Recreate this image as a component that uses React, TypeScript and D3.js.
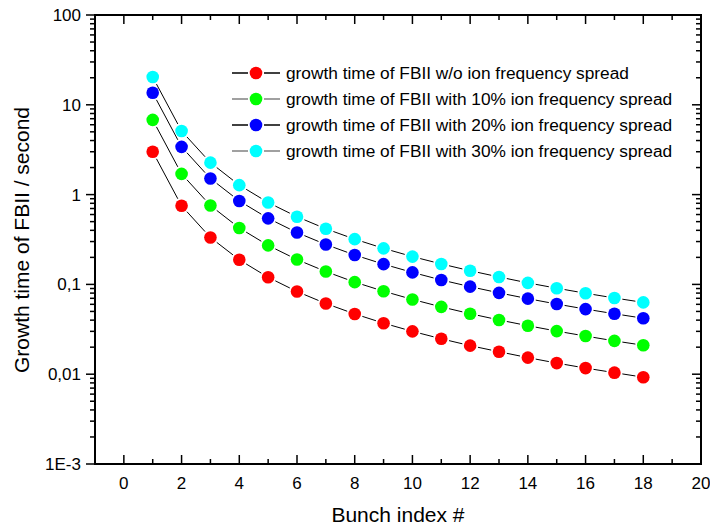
import React from "react";
import * as d3 from "d3";

const bunchIndex = [1, 2, 3, 4, 5, 6, 7, 8, 9, 10, 11, 12, 13, 14, 15, 16, 17, 18];
const noSpread = [3.0, 0.75, 0.333, 0.188, 0.12, 0.0833, 0.0612, 0.0469, 0.037, 0.03, 0.0248, 0.0208, 0.0178, 0.0153, 0.0133, 0.0117, 0.0104, 0.00926];
const spread10 = [6.8, 1.7, 0.756, 0.425, 0.272, 0.189, 0.139, 0.106, 0.084, 0.068, 0.0562, 0.0472, 0.0402, 0.0347, 0.0302, 0.0266, 0.0235, 0.021];
const spread20 = [13.6, 3.4, 1.51, 0.85, 0.544, 0.378, 0.278, 0.2125, 0.168, 0.136, 0.112, 0.0944, 0.0805, 0.0694, 0.0604, 0.0531, 0.0471, 0.042];
const spread30 = [20.4, 5.1, 2.27, 1.275, 0.816, 0.567, 0.416, 0.319, 0.252, 0.204, 0.169, 0.142, 0.121, 0.104, 0.0907, 0.0797, 0.0706, 0.063];
const seriesNames = [
  "growth time of FBII w/o ion frequency spread",
  "growth time of FBII with 10% ion frequency spread",
  "growth time of FBII with 20% ion frequency spread",
  "growth time of FBII with 30% ion frequency spread",
];
const seriesColors = ["#ff0000", "#00ff00", "#0000ff", "#00ffff"];
const legendLineColors = ["#000000", "#808080", "#000000", "#808080"];
const xTicks = [0, 2, 4, 6, 8, 10, 12, 14, 16, 18, 20];
const xMinorTicks = [-1, 1, 3, 5, 7, 9, 11, 13, 15, 17, 19];
const yTicks = [100, 10, 1, 0.1, 0.01, 0.001];
const yTickLabels = ["100", "10", "1", "0,1", "0,01", "1E-3"];

const FONT = "Arial, 'Liberation Sans', sans-serif";

export default function App() {
  const L = 95, R = 701, T = 15, B = 464;
  const x = d3.scaleLinear().domain([-1, 20]).range([L, R]);
  const y = d3.scaleLog().domain([0.001, 100]).range([B, T]);
  const allSeries = [noSpread, spread10, spread20, spread30];
  const r = 6.3;
  const gap = 8;

  const yMinor: number[] = [];
  for (let e = -3; e < 2; e++) {
    for (let m = 2; m <= 9; m++) yMinor.push(m * Math.pow(10, e));
  }

  const segs = (vals: number[]) => {
    const out: JSX.Element[] = [];
    for (let i = 0; i < vals.length - 1; i++) {
      const x1 = x(bunchIndex[i]), y1 = y(vals[i]);
      const x2 = x(bunchIndex[i + 1]), y2 = y(vals[i + 1]);
      const dx = x2 - x1, dy = y2 - y1;
      const len = Math.hypot(dx, dy);
      if (len <= 2 * gap) continue;
      const ux = dx / len, uy = dy / len;
      out.push(
        <line key={i} x1={x1 + ux * gap} y1={y1 + uy * gap} x2={x2 - ux * gap} y2={y2 - uy * gap}
          stroke="#000" strokeWidth={1} />
      );
    }
    return out;
  };

  const legendRows = [73, 99, 125, 151];

  return (
    <svg width={710} height={526} style={{ position: "absolute", left: 0, top: 0, background: "#fff" }}
      fontFamily={FONT}>
      <rect x={0} y={0} width={710} height={526} fill="#fff" />
      {allSeries.map((vals, si) => (
        <g key={si}>
          {segs(vals)}
          {vals.map((v, i) => (
            <circle key={i} cx={x(bunchIndex[i])} cy={y(v)} r={r} fill={seriesColors[si]} />
          ))}
        </g>
      ))}
      <rect x={L} y={T} width={R - L} height={B - T} fill="none" stroke="#000" strokeWidth={2} />
      {xTicks.map((t) => (
        <g key={"xt" + t}>
          <line x1={x(t)} x2={x(t)} y1={B} y2={B - 9} stroke="#000" strokeWidth={1.5} />
          <line x1={x(t)} x2={x(t)} y1={T} y2={T + 9} stroke="#000" strokeWidth={1.5} />
          <text x={x(t)} y={489} fontSize={17} textAnchor="middle">{t}</text>
        </g>
      ))}
      {xMinorTicks.map((t) => (
        <g key={"xm" + t}>
          <line x1={x(t)} x2={x(t)} y1={B} y2={B - 5} stroke="#000" strokeWidth={1.5} />
          <line x1={x(t)} x2={x(t)} y1={T} y2={T + 5} stroke="#000" strokeWidth={1.5} />
        </g>
      ))}
      {yTicks.map((t, i) => (
        <g key={"yt" + t}>
          <line x1={L} x2={L - 9} y1={y(t)} y2={y(t)} stroke="#000" strokeWidth={1.5} />
          <line x1={R} x2={R - 9} y1={y(t)} y2={y(t)} stroke="#000" strokeWidth={1.5} />
          <text x={81} y={y(t) + 6} fontSize={17} textAnchor="end">{yTickLabels[i]}</text>
        </g>
      ))}
      {yMinor.map((t, i) => (
        <g key={"ym" + i}>
          <line x1={L} x2={L - 5} y1={y(t)} y2={y(t)} stroke="#000" strokeWidth={1.5} />
          <line x1={R} x2={R - 5} y1={y(t)} y2={y(t)} stroke="#000" strokeWidth={1.5} />
        </g>
      ))}
      <text x={398} y={522} fontSize={21} textAnchor="middle">Bunch index #</text>
      <text transform={`translate(29,240) rotate(-90)`} fontSize={21} textAnchor="middle">
        Growth time of FBII / second
      </text>
      {seriesNames.map((name, i) => (
        <g key={"lg" + i}>
          <line x1={232} x2={248} y1={legendRows[i]} y2={legendRows[i]} stroke={legendLineColors[i]} strokeWidth={1.5} />
          <line x1={264} x2={280} y1={legendRows[i]} y2={legendRows[i]} stroke={legendLineColors[i]} strokeWidth={1.5} />
          <circle cx={256} cy={legendRows[i]} r={r} fill={seriesColors[i]} />
          <text x={286} y={legendRows[i] + 6} fontSize={17.3}>{name}</text>
        </g>
      ))}
    </svg>
  );
}
